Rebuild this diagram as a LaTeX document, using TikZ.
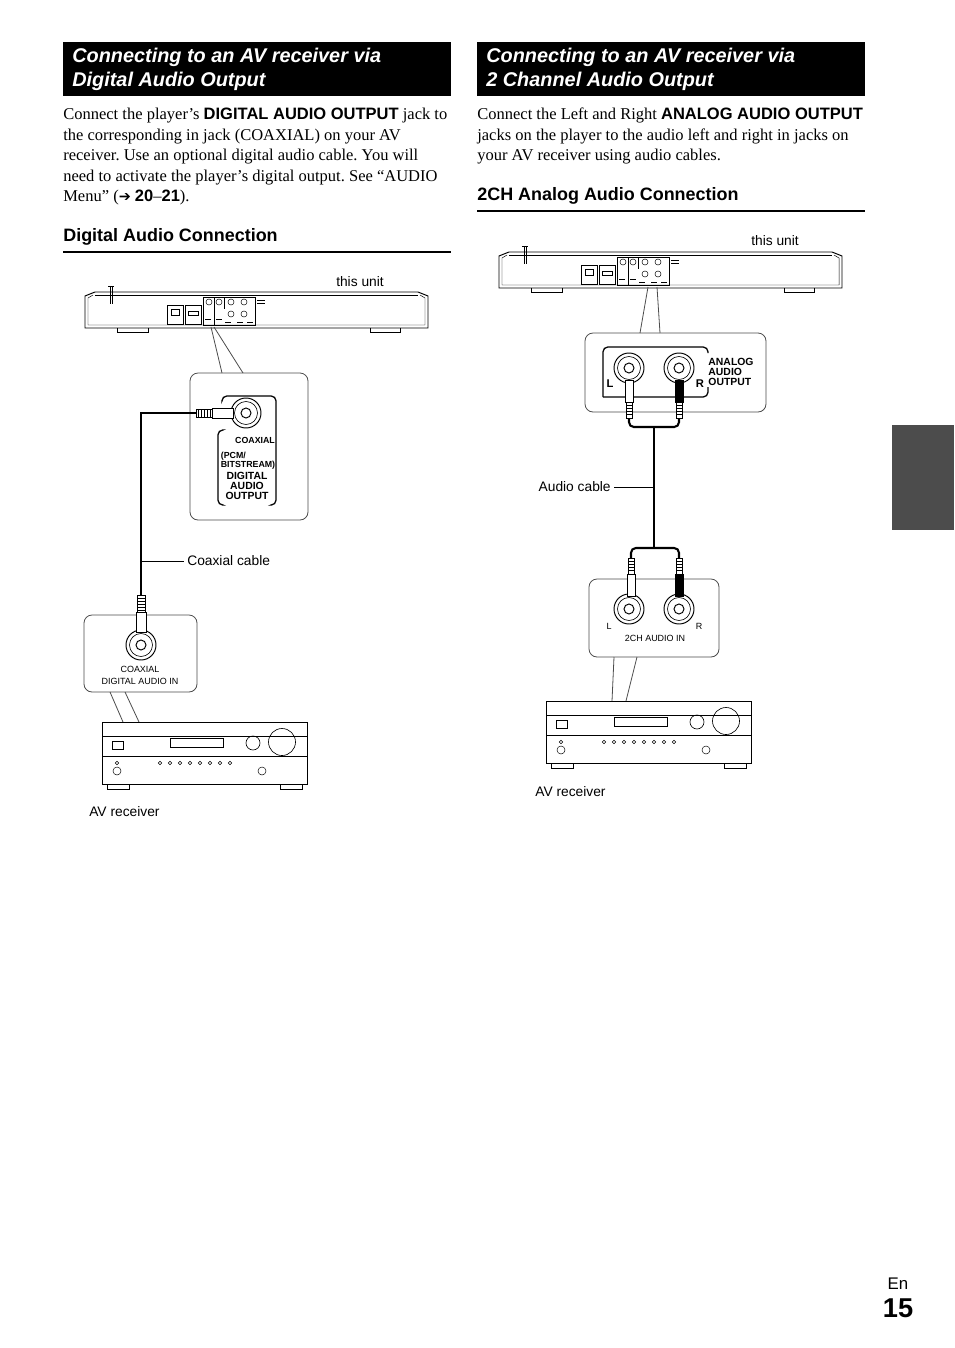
\documentclass[tikz,border=0pt]{standalone}
\usepackage{fontspec}
\setmainfont{Liberation Serif}
\setsansfont{Liberation Sans}
\newfontfamily\symfont{DejaVu Sans}
\usetikzlibrary{positioning}
\frenchspacing

\tikzset{
  headbar/.style={fill=black, draw=none},
  headtext/.style={anchor=west, text=white, font=\sffamily\bfseries\itshape\fontsize{12.4}{13}\selectfont, inner sep=0pt},
  subhead/.style={anchor=west, font=\sffamily\bfseries\fontsize{11.2}{12}\selectfont, inner sep=0pt},
  bodytext/.style={anchor=north west, align=left, inner sep=0pt, font=\fontsize{10.3}{12.8}\selectfont},
  label/.style={font=\sffamily\fontsize{8.6}{10}\selectfont, inner sep=0pt},
  tiny/.style={font=\sffamily\fontsize{5.6}{6}\selectfont, inner sep=0pt, align=center},
  tinyb/.style={font=\sffamily\bfseries\fontsize{5.5}{5.6}\selectfont, inner sep=0pt, align=left},
  callout/.style={draw=black!70, line width=0.5pt, rounded corners=5pt, fill=white},
  cable/.style={line width=1.3pt},
  pointer/.style={draw=black!70, line width=0.5pt},
  pics/player/.style={code={
    % body
    \draw[line width=0.6pt, fill=white] (0,4) -- (0,36) -- (343,36) -- (343,4) -- (333,0) -- (10,0) -- cycle;
    \draw[line width=0.3pt] (3,6) -- (8,3) (3,6) -- (3,33) -- (10,33) -- (333,33) -- (340,33) -- (340,6) -- (335,3);
    \draw[line width=0.3pt] (10,3) -- (333,3);
    % antenna
    \draw[line width=0.4pt] (25,-6) -- (25,12) (27,-6) -- (27,12) (23,-6) -- (29,-6);
    % feet
    \draw[line width=0.4pt] (32,36) -- (32,40) -- (63,40) -- (63,36);
    \draw[line width=0.4pt] (285,36) -- (285,40) -- (315,40) -- (315,36);
    % ports
    \draw[line width=0.3pt] (82,13) rectangle (98,32) (86,17) rectangle (94,23);
    \draw[line width=0.3pt] (100,13) rectangle (116,32) (103,19) rectangle (113,23);
    \draw[line width=0.3pt] (118,5) rectangle (170,33) (129,5) -- (129,33) (139,5) -- (139,17);
    \foreach \px in {124,134,146,159} \draw[line width=0.3pt] (\px,10) circle (3);
    \foreach \px in {146,159} \draw[line width=0.3pt] (\px,22) circle (3);
    \foreach \px/\py in {120/27,131/27,140/30,152/30,162/30} \draw[line width=0.2pt] (\px,\py) -- +(6,0);
    \draw[line width=0.3pt] (172,8) -- +(8,0) (172,11) -- +(8,0);
  }},
  pics/receiver/.style={code={
    \draw[line width=0.6pt, fill=white] (0,0) rectangle (205,62);
    \draw[line width=0.3pt] (0,14) -- (205,14) (0,34) -- (205,34);
    \draw[line width=0.4pt] (10,19) rectangle (21,27);
    \draw[line width=0.4pt] (68,16) rectangle (121,25);
    \draw[line width=0.4pt] (151,21) circle (7);
    \draw[line width=0.4pt] (180,20) circle (13.5);
    \foreach \k in {0,...,7} \draw[line width=0.3pt] (58+\k*10,41) circle (1.8);
    \draw[line width=0.3pt] (15,41) circle (1.8) (15,49) circle (4) (160,49) circle (4);
    \draw[line width=0.5pt] (5,62) -- (5,67) -- (27,67) -- (27,62);
    \draw[line width=0.5pt] (178,62) -- (178,67) -- (200,67) -- (200,62);
  }},
  pics/jack/.style={code={
    \draw[line width=0.6pt] (0,0) circle (15);
    \draw[line width=0.4pt] (0,0) circle (11.5);
    \draw[line width=0.6pt] (0,0) circle (5);
  }}
}

\begin{document}
\begin{tikzpicture}[x=0.6240pt,y=-0.6240pt]
  \useasboundingbox (0,0) rectangle (954,1348);

  %Headings
  \fill[headbar] (63,42) rectangle (451,96);
  \fill[headbar] (477,42) rectangle (865,96);
  \node[headtext] (hdA1) at (72,57) {Connecting to an AV receiver via};
  \node[headtext] (hdA2) at (72,81) {Digital Audio Output};
  \node[headtext] (hdB1) at (486,57) {Connecting to an AV receiver via};
  \node[headtext] (hdB2) at (486,81) {2 Channel Audio Output};

  %Body text
  \node[bodytext] (txtA) at (63,108) {Connect the player’s {\sffamily\bfseries DIGITAL AUDIO OUTPUT} jack to\\
    the corresponding in jack (COAXIAL) on your AV\\
    receiver. Use an optional digital audio cable. You will\\
    need to activate the player’s digital output. See “AUDIO\\
    Menu” ({\symfont\small ➔} {\sffamily\bfseries 20}–{\sffamily\bfseries 21}).};
  \node[bodytext] (txtB) at (477,108) {Connect the Left and Right {\sffamily\bfseries ANALOG AUDIO OUTPUT}\\
    jacks on the player to the audio left and right in jacks on\\
    your AV receiver using audio cables.};

  %Sub headings
  \node[subhead] (subA) at (63,237) {Digital Audio Connection};
  \draw[line width=1pt] (63,252) -- (451,252);
  \node[subhead] (subB) at (477,196) {2CH Analog Audio Connection};
  \draw[line width=1pt] (477,211) -- (865,211);

  %Side tab and page number
  \fill[black!70] (892,425) rectangle (954,530);
  \node[font=\sffamily\fontsize{10.5}{12}\selectfont, inner sep=0pt] (pgEn) at (898,1284) {En};
  \node[font=\sffamily\bfseries\fontsize{17}{18}\selectfont, inner sep=0pt] (pgNo) at (898,1308) {15};

  %Digital audio connection
  \pic at (85,292) {player};
  \node[label] (unitA) at (360,282) {this unit};
  \coordinate (portA1) at (211,327);
  \coordinate (portA2) at (214,327);
  \draw[callout] (190,373) rectangle (308,520);
  \draw[pointer] (portA1) -- (222,373) (portA2) -- (243,373);
  \draw[line width=0.8pt, rounded corners=3pt] (222,400) -- (222,396) -- (276,396) -- (276,505) -- (272,505);
  \draw[line width=0.8pt, rounded corners=3pt] (222,430) -- (218,430) -- (218,505) -- (222,505);
  \pic at (246,413) {jack};
  \node[tinyb] (coaxA) at (255,440) {COAXIAL};
  \node[tinyb, align=left] (pcmA) at (248,461) {(PCM/\\BITSTREAM)};
  \node[tinyb, align=center, font=\sffamily\bfseries\fontsize{6.5}{6.4}\selectfont] (dgA) at (247,486) {DIGITAL\\AUDIO\\OUTPUT};
  % coax plug horizontal
  \draw[line width=0.5pt, fill=white] (212,408) rectangle (233,418);
  \draw[line width=0.5pt, fill=white] (196,409) rectangle (212,417);
  \foreach \k in {198,201,...,210} \draw[line width=0.3pt] (\k,409) -- (\k,417);
  \coordinate (plugA1) at (196,413);
  \coordinate (bendA) at (141,413);
  \coordinate (plugA2) at (141,595);
  \draw[cable] (plugA1) -- (bendA) -- (plugA2);
  \coordinate (leadA) at (141,561);
  \node[label, anchor=west] (coaxcab) at (187,561) {Coaxial cable};
  \draw[line width=0.4pt] (leadA) -- ([xshift=-2pt]coaxcab.west);
  % lower callout
  \draw[callout] (84,615) rectangle (197,692);
  \draw[pointer] (110,692) -- (123,722) (125,692) -- (139,722);
  \pic at (141,645) {jack};
  \draw[line width=0.5pt, fill=white] (137,595) rectangle (145,612);
  \foreach \k in {598,601,...,610} \draw[line width=0.3pt] (137,\k) -- (145,\k);
  \draw[line width=0.5pt, fill=white] (136,612) rectangle (146,632);
  \node[tiny] (coaxinA) at (140,669) {COAXIAL};
  \node[tiny] (dainA) at (140,681) {DIGITAL AUDIO IN};
  \pic at (102,722) {receiver};
  \node[label, anchor=west] (avrA) at (89,812) {AV receiver};

  %2CH analog audio connection
  \pic at (499,252) {player};
  \node[label] (unitB) at (775,241) {this unit};
  \draw[callout] (585,333) rectangle (766,412);
  \draw[pointer] (648,287) -- (640,333) (657,287) -- (660,333);
  \draw[line width=0.8pt, rounded corners=3pt] (603,397) -- (603,347) -- (708,347) -- (708,353);
  \draw[line width=0.8pt, rounded corners=3pt] (708,387) -- (708,397) -- (603,397);
  \pic at (629,368) {jack};
  \pic at (679,368) {jack};
  \node[tinyb, font=\sffamily\bfseries\fontsize{6.5}{6.2}\selectfont] (anB) at (731,372) {ANALOG\\AUDIO\\OUTPUT};
  \node[tinyb, font=\sffamily\bfseries\fontsize{7}{7}\selectfont] (lB) at (610,384) {L};
  \node[tinyb, font=\sffamily\bfseries\fontsize{7}{7}\selectfont] (rB) at (700,384) {R};
  % output plugs
  \draw[line width=0.5pt, fill=white] (625,380) rectangle (633,402);
  \draw[line width=0.5pt, fill=black] (675,380) rectangle (683,402);
  \foreach \px in {629,679} {
    \draw[line width=0.5pt, fill=white] (\px-3,402) rectangle (\px+3,418);
    \foreach \k in {405,408,...,416} \draw[line width=0.3pt] (\px-3,\k) -- (\px+3,\k);
  }
  \coordinate (outL) at (629,418);
  \coordinate (outR) at (679,418);
  \coordinate (topmid) at (654,427);
  \coordinate (botmid) at (654,548);
  \draw[cable, rounded corners=3pt] (outL) -- (629,427) -- (679,427) -- (outR);
  \draw[cable] (topmid) -- (botmid);
  \coordinate (inL) at (631,558);
  \coordinate (inR) at (679,558);
  \draw[cable, rounded corners=3pt] (inL) -- (631,548) -- (679,548) -- (inR);
  \coordinate (leadB) at (654,487);
  \node[label, anchor=east] (audcab) at (611,487) {Audio cable};
  \draw[line width=0.4pt] (leadB) -- ([xshift=2pt]audcab.east);
  % lower callout
  \draw[callout] (589,579) rectangle (719,657);
  \draw[pointer] (614,657) -- (612,701) (637,657) -- (626,701);
  \pic at (629,609) {jack};
  \pic at (679,609) {jack};
  \foreach \px/\col in {631/white,679/black} {
    \draw[line width=0.5pt, fill=white] (\px-3,558) rectangle (\px+3,574);
    \foreach \k in {561,564,...,572} \draw[line width=0.3pt] (\px-3,\k) -- (\px+3,\k);
    \draw[line width=0.5pt, fill=\col] (\px-4,574) rectangle (\px+4,596);
  }
  \node[tiny] (lB2) at (609,626) {L};
  \node[tiny] (rB2) at (699,626) {R};
  \node[tiny] (inB) at (655,638) {2CH AUDIO IN};
  \pic at (546,701) {receiver};
  \node[label, anchor=west] (avrB) at (535,792) {AV receiver};
\end{tikzpicture}
\end{document}
